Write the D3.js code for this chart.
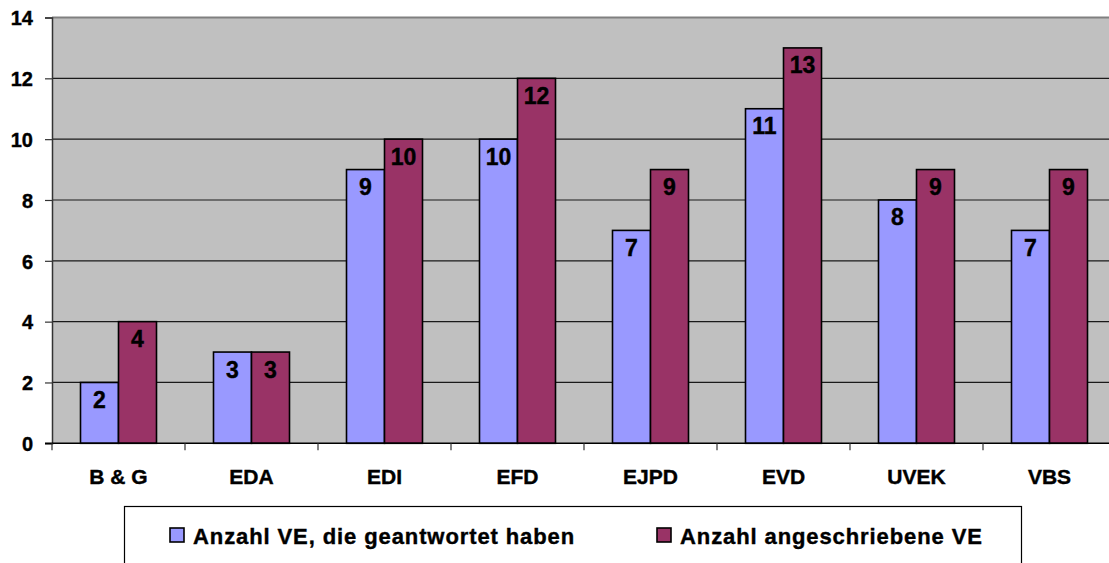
<!DOCTYPE html>
<html><head><meta charset="utf-8">
<script src="https://cdn.jsdelivr.net/npm/d3@7"></script>
<style>body{margin:0;background:#fff;} text{font-family:Arial,"Liberation Sans",sans-serif;font-weight:bold;fill:#000;stroke:#000;stroke-width:0.4px;}</style>
</head><body>
<svg id="c" width="1109" height="563"></svg>
<script>
const categories = ["B & G","EDA","EDI","EFD","EJPD","EVD","UVEK","VBS"];
const seriesNames = ["Anzahl VE, die geantwortet haben","Anzahl angeschriebene VE"];
const answered = [2,3,9,10,7,11,8,7];
const contacted = [4,3,10,12,9,13,9,9];
const yTicks = [0,2,4,6,8,10,12,14];
const colors = ["#9999FF","#993366"];

const svg = d3.select("#c");
const pLeft = 52, pTop = 17.5, pBottom = 443.3, band = 133;
const x0 = d3.scaleBand().domain(categories).range([pLeft, pLeft + band*categories.length]).padding(0);
const x1 = d3.scaleBand().domain([0,1]).range([28.5, 28.5+76]).padding(0);
const y = d3.scaleLinear().domain([0,14]).range([pBottom, pTop]);

// plot background
svg.append("rect").attr("x",pLeft).attr("y",pTop).attr("width",1109-pLeft+10).attr("height",pBottom-pTop).attr("fill","#C0C0C0");
// gridlines
svg.append("g").selectAll("line").data(yTicks.filter(v=>v>0&&v<14)).join("line")
  .attr("x1",pLeft).attr("x2",1109).attr("y1",d=>y(d)).attr("y2",d=>y(d)).attr("stroke","#1a1a1a").attr("stroke-width",1.2);
svg.append("line").attr("x1",pLeft).attr("x2",1109).attr("y1",y(14)).attr("y2",y(14)).attr("stroke","#808080").attr("stroke-width",2);

// y axis
const yAxis = d3.axisLeft(y).tickValues(yTicks).tickSize(7).tickPadding(12);
const gy = svg.append("g").attr("transform",`translate(${pLeft},0)`).call(yAxis);
gy.attr("font-family",null).attr("font-size",null);
gy.select(".domain").attr("stroke","#333").attr("stroke-width",1.5);
gy.selectAll(".tick line").attr("stroke","#333").attr("stroke-width",1.2);
gy.selectAll(".tick text").style("font-size","20px").attr("x",-19).attr("dy","0.36em");

// bars
const data = categories.map((c,i)=>({c, vals:[answered[i],contacted[i]]}));
const groups = svg.append("g").selectAll("g").data(data).join("g").attr("transform",d=>`translate(${x0(d.c)},0)`);
groups.selectAll("rect").data(d=>d.vals.map((v,k)=>({v,k}))).join("rect")
  .attr("x",d=>x1(d.k)).attr("width",x1.bandwidth()).attr("y",d=>y(d.v)).attr("height",d=>pBottom-y(d.v))
  .attr("fill",d=>colors[d.k]).attr("stroke","#000").attr("stroke-width",1.6);
groups.selectAll("text").data(d=>d.vals.map((v,k)=>({v,k}))).join("text")
  .attr("x",d=>x1(d.k)+x1.bandwidth()/2).attr("y",d=>y(d.v)+25.5).attr("text-anchor","middle")
  .style("font-size","23px").text(d=>d.v);

// x axis
const xAxis = d3.axisBottom(x0).tickSize(0).tickPadding(0);
const gx = svg.append("g").attr("transform",`translate(0,${pBottom})`).call(xAxis);
gx.attr("font-family",null).attr("font-size",null);
gx.select(".domain").remove();
gx.selectAll(".tick text").style("font-size","21px").attr("y",41).attr("dy",null);
svg.append("line").attr("x1",pLeft-7).attr("x2",1109).attr("y1",pBottom).attr("y2",pBottom).attr("stroke","#000").attr("stroke-width",1.5);
svg.append("g").selectAll("line").data(d3.range(categories.length+1)).join("line")
  .attr("x1",i=>pLeft+i*band).attr("x2",i=>pLeft+i*band).attr("y1",pBottom).attr("y2",pBottom+7)
  .attr("stroke","#333").attr("stroke-width",1.2);

// legend
svg.append("rect").attr("x",124.5).attr("y",506.5).attr("width",897).attr("height",70).attr("fill","#fff").attr("stroke","#000").attr("stroke-width",1.2);
const legX = [170, 657];
const lg = svg.append("g").selectAll("g").data(seriesNames).join("g").attr("transform",(d,i)=>`translate(${legX[i]},0)`);
lg.append("rect").attr("x",0).attr("y",528).attr("width",14).attr("height",14).attr("fill",(d,i)=>colors[i]).attr("stroke","#000").attr("stroke-width",1.6);
lg.append("text").attr("x",23).attr("y",544).style("font-size","22px").style("letter-spacing","0.9px").text(d=>d);
</script>
</body></html>
